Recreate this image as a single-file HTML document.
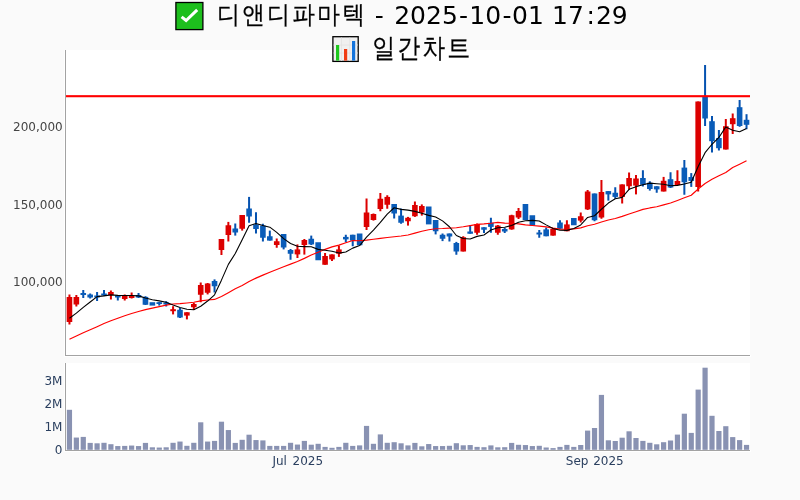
<!DOCTYPE html>
<html lang="ko"><head><meta charset="utf-8"><title>디앤디파마텍 일간차트</title>
<style>html,body{margin:0;padding:0;background:#fafafa;}body{width:800px;height:500px;overflow:hidden;}svg{display:block;will-change:transform;}.t{font-family:"DejaVu Sans","WenQuanYi Zen Hei",sans-serif;font-size:25px;fill:#000;}.k{font-family:"WenQuanYi Zen Hei","DejaVu Sans",sans-serif;font-size:25px;fill:#000;}.y{font-family:"DejaVu Sans","Liberation Sans",sans-serif;font-size:12px;fill:#444;}.v{font-family:"DejaVu Sans","Liberation Sans",sans-serif;font-size:12px;fill:#2a3f5f;}</style></head><body>
<svg width="800" height="500" viewBox="0 0 800 500">
<rect width="800" height="500" fill="#fafafa"/>
<rect x="64" y="50" width="686" height="307" fill="#fff"/><rect x="750" y="355" width="1" height="2" fill="#fff"/>
<rect x="64" y="363" width="686" height="89" fill="#fff"/><rect x="750" y="450" width="1" height="2" fill="#fff"/>
<g fill="#8992b2">
<rect x="66.85" y="409.8" width="5.2" height="40"/>
<rect x="73.76" y="437.55" width="5.2" height="12.25"/>
<rect x="80.67" y="436.9" width="5.2" height="12.9"/>
<rect x="87.58" y="442.9" width="5.2" height="6.9"/>
<rect x="94.49" y="443.3" width="5.2" height="6.5"/>
<rect x="101.4" y="442.8" width="5.2" height="7"/>
<rect x="108.3" y="444.2" width="5.2" height="5.6"/>
<rect x="115.21" y="446.05" width="5.2" height="3.75"/>
<rect x="122.12" y="445.9" width="5.2" height="3.9"/>
<rect x="129.03" y="445.55" width="5.2" height="4.25"/>
<rect x="135.94" y="446.05" width="5.2" height="3.75"/>
<rect x="142.85" y="442.9" width="5.2" height="6.9"/>
<rect x="149.76" y="447.3" width="5.2" height="2.5"/>
<rect x="156.67" y="447.55" width="5.2" height="2.25"/>
<rect x="163.58" y="447.3" width="5.2" height="2.5"/>
<rect x="170.48" y="442.8" width="5.2" height="7"/>
<rect x="177.39" y="441.55" width="5.2" height="8.25"/>
<rect x="184.3" y="445.8" width="5.2" height="4"/>
<rect x="191.21" y="442.8" width="5.2" height="7"/>
<rect x="198.12" y="422.3" width="5.2" height="27.5"/>
<rect x="205.03" y="441.55" width="5.2" height="8.25"/>
<rect x="211.94" y="440.9" width="5.2" height="8.9"/>
<rect x="218.85" y="421.7" width="5.2" height="28.1"/>
<rect x="225.76" y="430.05" width="5.2" height="19.75"/>
<rect x="232.67" y="442.9" width="5.2" height="6.9"/>
<rect x="239.58" y="439.8" width="5.2" height="10"/>
<rect x="246.48" y="434.7" width="5.2" height="15.1"/>
<rect x="253.39" y="440.05" width="5.2" height="9.75"/>
<rect x="260.3" y="440.4" width="5.2" height="9.4"/>
<rect x="267.21" y="445.9" width="5.2" height="3.9"/>
<rect x="274.12" y="445.9" width="5.2" height="3.9"/>
<rect x="281.03" y="445.9" width="5.2" height="3.9"/>
<rect x="287.94" y="442.8" width="5.2" height="7"/>
<rect x="294.85" y="444.55" width="5.2" height="5.25"/>
<rect x="301.76" y="440.9" width="5.2" height="8.9"/>
<rect x="308.66" y="444.7" width="5.2" height="5.1"/>
<rect x="315.57" y="443.8" width="5.2" height="6"/>
<rect x="322.48" y="446.9" width="5.2" height="2.9"/>
<rect x="329.39" y="447.8" width="5.2" height="2"/>
<rect x="336.3" y="446.9" width="5.2" height="2.9"/>
<rect x="343.21" y="442.8" width="5.2" height="7"/>
<rect x="350.12" y="445.9" width="5.2" height="3.9"/>
<rect x="357.03" y="445.4" width="5.2" height="4.4"/>
<rect x="363.94" y="425.9" width="5.2" height="23.9"/>
<rect x="370.85" y="443.8" width="5.2" height="6"/>
<rect x="377.75" y="434.4" width="5.2" height="15.4"/>
<rect x="384.66" y="442.8" width="5.2" height="7"/>
<rect x="391.57" y="442.2" width="5.2" height="7.6"/>
<rect x="398.48" y="443.3" width="5.2" height="6.5"/>
<rect x="405.39" y="445.4" width="5.2" height="4.4"/>
<rect x="412.3" y="442.9" width="5.2" height="6.9"/>
<rect x="419.21" y="446.3" width="5.2" height="3.5"/>
<rect x="426.12" y="444.05" width="5.2" height="5.75"/>
<rect x="433.03" y="446.05" width="5.2" height="3.75"/>
<rect x="439.94" y="446.05" width="5.2" height="3.75"/>
<rect x="446.84" y="445.8" width="5.2" height="4"/>
<rect x="453.75" y="443.2" width="5.2" height="6.6"/>
<rect x="460.66" y="445.3" width="5.2" height="4.5"/>
<rect x="467.57" y="445.05" width="5.2" height="4.75"/>
<rect x="474.48" y="446.9" width="5.2" height="2.9"/>
<rect x="481.39" y="447.2" width="5.2" height="2.6"/>
<rect x="488.3" y="445.4" width="5.2" height="4.4"/>
<rect x="495.21" y="447.3" width="5.2" height="2.5"/>
<rect x="502.12" y="447.2" width="5.2" height="2.6"/>
<rect x="509.03" y="442.9" width="5.2" height="6.9"/>
<rect x="515.93" y="444.8" width="5.2" height="5"/>
<rect x="522.84" y="445.05" width="5.2" height="4.75"/>
<rect x="529.75" y="446.05" width="5.2" height="3.75"/>
<rect x="536.66" y="445.8" width="5.2" height="4"/>
<rect x="543.57" y="447.5" width="5.2" height="2.3"/>
<rect x="550.48" y="448.1" width="5.2" height="1.7"/>
<rect x="557.39" y="446.9" width="5.2" height="2.9"/>
<rect x="564.3" y="444.9" width="5.2" height="4.9"/>
<rect x="571.21" y="446.9" width="5.2" height="2.9"/>
<rect x="578.12" y="445" width="5.2" height="4.8"/>
<rect x="585.02" y="430.6" width="5.2" height="19.2"/>
<rect x="591.93" y="428" width="5.2" height="21.8"/>
<rect x="598.84" y="394.9" width="5.2" height="54.9"/>
<rect x="605.75" y="440.3" width="5.2" height="9.5"/>
<rect x="612.66" y="441" width="5.2" height="8.8"/>
<rect x="619.57" y="437.7" width="5.2" height="12.1"/>
<rect x="626.48" y="431.3" width="5.2" height="18.5"/>
<rect x="633.39" y="438" width="5.2" height="11.8"/>
<rect x="640.3" y="440.9" width="5.2" height="8.9"/>
<rect x="647.21" y="442.8" width="5.2" height="7"/>
<rect x="654.12" y="444.3" width="5.2" height="5.5"/>
<rect x="661.02" y="442.2" width="5.2" height="7.6"/>
<rect x="667.93" y="440.5" width="5.2" height="9.3"/>
<rect x="674.84" y="434.6" width="5.2" height="15.2"/>
<rect x="681.75" y="413.7" width="5.2" height="36.1"/>
<rect x="688.66" y="432.9" width="5.2" height="16.9"/>
<rect x="695.57" y="389.6" width="5.2" height="60.2"/>
<rect x="702.48" y="367.7" width="5.2" height="82.1"/>
<rect x="709.39" y="415.8" width="5.2" height="34"/>
<rect x="716.3" y="431" width="5.2" height="18.8"/>
<rect x="723.21" y="426.2" width="5.2" height="23.6"/>
<rect x="730.11" y="437.1" width="5.2" height="12.7"/>
<rect x="737.02" y="440.1" width="5.2" height="9.7"/>
<rect x="743.93" y="444.9" width="5.2" height="4.9"/>
</g>
<g>
<rect x="68.45" y="294.5" width="2" height="30" fill="#dc0000"/>
<rect x="66.65" y="297" width="5.6" height="25" fill="#dc0000"/>
<rect x="75.36" y="295" width="2" height="11.5" fill="#dc0000"/>
<rect x="73.56" y="297" width="5.6" height="7.5" fill="#dc0000"/>
<rect x="82.27" y="290" width="2" height="8" fill="#0552b0"/>
<rect x="80.47" y="293" width="5.6" height="2" fill="#0a5cb8"/>
<rect x="89.18" y="293.5" width="2" height="5" fill="#0552b0"/>
<rect x="87.38" y="294.5" width="5.6" height="3" fill="#0a5cb8"/>
<rect x="96.09" y="292" width="2" height="9" fill="#0552b0"/>
<rect x="94.29" y="295.5" width="5.6" height="2" fill="#0a5cb8"/>
<rect x="103" y="290" width="2" height="6" fill="#0552b0"/>
<rect x="101.2" y="293.5" width="5.6" height="2" fill="#0a5cb8"/>
<rect x="109.9" y="290.5" width="2" height="9" fill="#dc0000"/>
<rect x="108.1" y="292" width="5.6" height="3" fill="#dc0000"/>
<rect x="116.81" y="295" width="2" height="5.5" fill="#0552b0"/>
<rect x="115.01" y="295.5" width="5.6" height="2" fill="#0a5cb8"/>
<rect x="123.72" y="294.5" width="2" height="6" fill="#dc0000"/>
<rect x="121.92" y="296" width="5.6" height="3" fill="#dc0000"/>
<rect x="130.63" y="292.5" width="2" height="6" fill="#dc0000"/>
<rect x="128.83" y="295.5" width="5.6" height="2.5" fill="#dc0000"/>
<rect x="137.54" y="293" width="2" height="5" fill="#0552b0"/>
<rect x="135.74" y="295" width="5.6" height="2.5" fill="#0a5cb8"/>
<rect x="144.45" y="296.2" width="2" height="8.8" fill="#0552b0"/>
<rect x="142.65" y="296.9" width="5.6" height="7.85" fill="#0a5cb8"/>
<rect x="149.56" y="302.2" width="5.6" height="3.4" fill="#0a5cb8"/>
<rect x="158.27" y="301.9" width="2" height="3.7" fill="#0552b0"/>
<rect x="156.47" y="302.2" width="5.6" height="1.8" fill="#0a5cb8"/>
<rect x="165.18" y="301.2" width="2" height="5.3" fill="#0552b0"/>
<rect x="163.38" y="302.5" width="5.6" height="2" fill="#0a5cb8"/>
<rect x="172.08" y="306.2" width="2" height="8.2" fill="#dc0000"/>
<rect x="170.28" y="309.2" width="5.6" height="2" fill="#dc0000"/>
<rect x="178.99" y="308" width="2" height="10" fill="#0552b0"/>
<rect x="177.19" y="309.75" width="5.6" height="7.75" fill="#0a5cb8"/>
<rect x="185.9" y="312.25" width="2" height="7.15" fill="#dc0000"/>
<rect x="184.1" y="312.25" width="5.6" height="3.35" fill="#dc0000"/>
<rect x="192.81" y="302.75" width="2" height="7.25" fill="#dc0000"/>
<rect x="191.01" y="304" width="5.6" height="3.25" fill="#dc0000"/>
<rect x="199.72" y="282.5" width="2" height="19.75" fill="#dc0000"/>
<rect x="197.92" y="285" width="5.6" height="9.75" fill="#dc0000"/>
<rect x="206.63" y="283" width="2" height="11.4" fill="#dc0000"/>
<rect x="204.83" y="283.5" width="5.6" height="9.25" fill="#dc0000"/>
<rect x="213.54" y="279.4" width="2" height="13.1" fill="#0552b0"/>
<rect x="211.74" y="281" width="5.6" height="5.25" fill="#0a5cb8"/>
<rect x="220.45" y="239" width="2" height="16" fill="#dc0000"/>
<rect x="218.65" y="239" width="5.6" height="11" fill="#dc0000"/>
<rect x="227.36" y="221.9" width="2" height="19.6" fill="#dc0000"/>
<rect x="225.56" y="225.25" width="5.6" height="9.75" fill="#dc0000"/>
<rect x="234.27" y="223.5" width="2" height="12.1" fill="#0552b0"/>
<rect x="232.47" y="228.5" width="5.6" height="4" fill="#0a5cb8"/>
<rect x="241.18" y="215" width="2" height="15.6" fill="#dc0000"/>
<rect x="239.38" y="215" width="5.6" height="13.75" fill="#dc0000"/>
<rect x="248.08" y="196.9" width="2" height="25.85" fill="#0552b0"/>
<rect x="246.28" y="208.5" width="5.6" height="8" fill="#0a5cb8"/>
<rect x="254.99" y="212.25" width="2" height="21.25" fill="#0552b0"/>
<rect x="253.19" y="224.4" width="5.6" height="4.6" fill="#0a5cb8"/>
<rect x="261.9" y="223.75" width="2" height="17.75" fill="#0552b0"/>
<rect x="260.1" y="225.6" width="5.6" height="12.15" fill="#0a5cb8"/>
<rect x="268.81" y="230.6" width="2" height="10" fill="#0552b0"/>
<rect x="267.01" y="236.25" width="5.6" height="4.35" fill="#0a5cb8"/>
<rect x="275.72" y="238.5" width="2" height="9.25" fill="#dc0000"/>
<rect x="273.92" y="241.25" width="5.6" height="3.75" fill="#dc0000"/>
<rect x="282.63" y="234" width="2" height="15.4" fill="#0552b0"/>
<rect x="280.83" y="234" width="5.6" height="13.5" fill="#0a5cb8"/>
<rect x="289.54" y="249" width="2" height="10.75" fill="#0552b0"/>
<rect x="287.74" y="250" width="5.6" height="3.75" fill="#0a5cb8"/>
<rect x="296.45" y="244.4" width="2" height="13.6" fill="#dc0000"/>
<rect x="294.65" y="249.4" width="5.6" height="5" fill="#dc0000"/>
<rect x="303.36" y="239" width="2" height="15.6" fill="#dc0000"/>
<rect x="301.56" y="240" width="5.6" height="5" fill="#dc0000"/>
<rect x="310.26" y="235.6" width="2" height="9.4" fill="#0552b0"/>
<rect x="308.46" y="238.75" width="5.6" height="5.65" fill="#0a5cb8"/>
<rect x="315.37" y="242.25" width="5.6" height="18" fill="#0a5cb8"/>
<rect x="324.08" y="253" width="2" height="11.75" fill="#dc0000"/>
<rect x="322.28" y="256" width="5.6" height="8.75" fill="#dc0000"/>
<rect x="330.99" y="254.4" width="2" height="6.6" fill="#dc0000"/>
<rect x="329.19" y="254.4" width="5.6" height="5" fill="#dc0000"/>
<rect x="337.9" y="245.6" width="2" height="11.3" fill="#dc0000"/>
<rect x="336.1" y="249.4" width="5.6" height="4.35" fill="#dc0000"/>
<rect x="344.81" y="234.75" width="2" height="7.5" fill="#0552b0"/>
<rect x="343.01" y="236.9" width="5.6" height="2.5" fill="#0a5cb8"/>
<rect x="351.72" y="234.75" width="2" height="11.5" fill="#0552b0"/>
<rect x="349.92" y="234.75" width="5.6" height="5.85" fill="#0a5cb8"/>
<rect x="356.83" y="233.5" width="5.6" height="11.75" fill="#0a5cb8"/>
<rect x="365.54" y="198.5" width="2" height="31.5" fill="#dc0000"/>
<rect x="363.74" y="212.5" width="5.6" height="14.5" fill="#dc0000"/>
<rect x="372.45" y="213.5" width="2" height="7.1" fill="#dc0000"/>
<rect x="370.65" y="214" width="5.6" height="6" fill="#dc0000"/>
<rect x="379.35" y="193" width="2" height="18.25" fill="#dc0000"/>
<rect x="377.55" y="198.75" width="5.6" height="10.25" fill="#dc0000"/>
<rect x="386.26" y="195.25" width="2" height="13.5" fill="#dc0000"/>
<rect x="384.46" y="196.9" width="5.6" height="7.85" fill="#dc0000"/>
<rect x="393.17" y="204" width="2" height="14.5" fill="#0552b0"/>
<rect x="391.37" y="204" width="5.6" height="9.5" fill="#0a5cb8"/>
<rect x="400.08" y="208.5" width="2" height="15.25" fill="#0552b0"/>
<rect x="398.28" y="215.6" width="5.6" height="7.15" fill="#0a5cb8"/>
<rect x="406.99" y="216.9" width="2" height="8.7" fill="#dc0000"/>
<rect x="405.19" y="217.75" width="5.6" height="3.5" fill="#dc0000"/>
<rect x="413.9" y="201.5" width="2" height="15.4" fill="#dc0000"/>
<rect x="412.1" y="205" width="5.6" height="11.25" fill="#dc0000"/>
<rect x="420.81" y="204.4" width="2" height="11.2" fill="#dc0000"/>
<rect x="419.01" y="206" width="5.6" height="6.5" fill="#dc0000"/>
<rect x="425.92" y="206.5" width="5.6" height="17.9" fill="#0a5cb8"/>
<rect x="434.63" y="220" width="2" height="14.4" fill="#0552b0"/>
<rect x="432.83" y="220" width="5.6" height="11.25" fill="#0a5cb8"/>
<rect x="441.54" y="233.5" width="2" height="7.6" fill="#0552b0"/>
<rect x="439.74" y="234.75" width="5.6" height="4" fill="#0a5cb8"/>
<rect x="448.44" y="233.5" width="2" height="8" fill="#0552b0"/>
<rect x="446.64" y="233.5" width="5.6" height="3" fill="#0a5cb8"/>
<rect x="455.35" y="241.9" width="2" height="12.85" fill="#0552b0"/>
<rect x="453.55" y="243" width="5.6" height="8.5" fill="#0a5cb8"/>
<rect x="462.26" y="236.25" width="2" height="15.25" fill="#dc0000"/>
<rect x="460.46" y="237.25" width="5.6" height="14.25" fill="#dc0000"/>
<rect x="469.17" y="225" width="2" height="8.75" fill="#0552b0"/>
<rect x="467.37" y="231.5" width="5.6" height="2.25" fill="#0a5cb8"/>
<rect x="476.08" y="223.5" width="2" height="11.25" fill="#dc0000"/>
<rect x="474.28" y="224" width="5.6" height="8.75" fill="#dc0000"/>
<rect x="482.99" y="227.25" width="2" height="5.75" fill="#0552b0"/>
<rect x="481.19" y="227.25" width="5.6" height="2.5" fill="#0a5cb8"/>
<rect x="489.9" y="217.75" width="2" height="15" fill="#0552b0"/>
<rect x="488.1" y="222.75" width="5.6" height="4.15" fill="#0a5cb8"/>
<rect x="496.81" y="225" width="2" height="9.75" fill="#dc0000"/>
<rect x="495.01" y="225.6" width="5.6" height="7.15" fill="#dc0000"/>
<rect x="503.72" y="227.75" width="2" height="5.25" fill="#0552b0"/>
<rect x="501.92" y="229" width="5.6" height="2.5" fill="#0a5cb8"/>
<rect x="510.63" y="214.75" width="2" height="15" fill="#dc0000"/>
<rect x="508.83" y="215.25" width="5.6" height="14.15" fill="#dc0000"/>
<rect x="517.53" y="208" width="2" height="11" fill="#dc0000"/>
<rect x="515.74" y="211" width="5.6" height="6.5" fill="#dc0000"/>
<rect x="522.64" y="204" width="5.6" height="16" fill="#0a5cb8"/>
<rect x="529.55" y="215.25" width="5.6" height="10.35" fill="#0a5cb8"/>
<rect x="538.26" y="230" width="2" height="7.75" fill="#0552b0"/>
<rect x="536.46" y="232.5" width="5.6" height="2" fill="#0a5cb8"/>
<rect x="545.17" y="227.5" width="2" height="8.75" fill="#0552b0"/>
<rect x="543.37" y="229.4" width="5.6" height="6.85" fill="#0a5cb8"/>
<rect x="552.08" y="228.5" width="2" height="7.1" fill="#dc0000"/>
<rect x="550.28" y="229" width="5.6" height="6.6" fill="#dc0000"/>
<rect x="558.99" y="220.25" width="2" height="8.5" fill="#0552b0"/>
<rect x="557.19" y="222.5" width="5.6" height="6.25" fill="#0a5cb8"/>
<rect x="565.9" y="220.25" width="2" height="11" fill="#dc0000"/>
<rect x="564.1" y="224.4" width="5.6" height="6.85" fill="#dc0000"/>
<rect x="571.01" y="218" width="5.6" height="7.25" fill="#0a5cb8"/>
<rect x="579.72" y="212.5" width="2" height="10" fill="#dc0000"/>
<rect x="577.92" y="216.25" width="5.6" height="4.35" fill="#dc0000"/>
<rect x="586.62" y="190" width="2" height="20" fill="#dc0000"/>
<rect x="584.83" y="191.5" width="5.6" height="17.9" fill="#dc0000"/>
<rect x="593.53" y="193.5" width="2" height="27.75" fill="#0552b0"/>
<rect x="591.73" y="193.5" width="5.6" height="26.75" fill="#0a5cb8"/>
<rect x="600.44" y="180" width="2" height="38.75" fill="#dc0000"/>
<rect x="598.64" y="192" width="5.6" height="25.5" fill="#dc0000"/>
<rect x="607.35" y="191.1" width="2" height="9.5" fill="#0552b0"/>
<rect x="605.55" y="191.1" width="5.6" height="3.3" fill="#0a5cb8"/>
<rect x="614.26" y="187.25" width="2" height="11.5" fill="#0552b0"/>
<rect x="612.46" y="192.75" width="5.6" height="4.15" fill="#0a5cb8"/>
<rect x="621.17" y="184.4" width="2" height="19.1" fill="#dc0000"/>
<rect x="619.37" y="184.4" width="5.6" height="12.5" fill="#dc0000"/>
<rect x="628.08" y="172.5" width="2" height="17.25" fill="#dc0000"/>
<rect x="626.28" y="178" width="5.6" height="8.25" fill="#dc0000"/>
<rect x="634.99" y="175" width="2" height="19.4" fill="#dc0000"/>
<rect x="633.19" y="178.5" width="5.6" height="7.1" fill="#dc0000"/>
<rect x="641.9" y="170.25" width="2" height="16.25" fill="#0552b0"/>
<rect x="640.1" y="178" width="5.6" height="6.75" fill="#0a5cb8"/>
<rect x="648.81" y="181.25" width="2" height="9.35" fill="#0552b0"/>
<rect x="647.01" y="182.75" width="5.6" height="6.25" fill="#0a5cb8"/>
<rect x="655.72" y="186.25" width="2" height="6.5" fill="#0552b0"/>
<rect x="653.92" y="186.25" width="5.6" height="3.15" fill="#0a5cb8"/>
<rect x="662.62" y="176.9" width="2" height="14.6" fill="#dc0000"/>
<rect x="660.82" y="180.8" width="5.6" height="10.7" fill="#dc0000"/>
<rect x="669.53" y="172.25" width="2" height="15.75" fill="#0552b0"/>
<rect x="667.73" y="179.2" width="5.6" height="8.3" fill="#0a5cb8"/>
<rect x="676.44" y="170.25" width="2" height="14.75" fill="#dc0000"/>
<rect x="674.64" y="181" width="5.6" height="4" fill="#dc0000"/>
<rect x="683.35" y="160" width="2" height="34.75" fill="#0552b0"/>
<rect x="681.55" y="167.6" width="5.6" height="14.65" fill="#0a5cb8"/>
<rect x="690.26" y="173.1" width="2" height="13.8" fill="#0552b0"/>
<rect x="688.46" y="177" width="5.6" height="3.9" fill="#0a5cb8"/>
<rect x="697.17" y="101.5" width="2" height="90" fill="#dc0000"/>
<rect x="695.37" y="101.5" width="5.6" height="85.5" fill="#dc0000"/>
<rect x="704.08" y="65" width="2" height="61" fill="#0552b0"/>
<rect x="702.28" y="96.5" width="5.6" height="22" fill="#0a5cb8"/>
<rect x="710.99" y="116" width="2" height="36.5" fill="#0552b0"/>
<rect x="709.19" y="121.2" width="5.6" height="20" fill="#0a5cb8"/>
<rect x="717.9" y="130" width="2" height="20.5" fill="#0552b0"/>
<rect x="716.1" y="138" width="5.6" height="10.2" fill="#0a5cb8"/>
<rect x="724.81" y="119" width="2" height="30.5" fill="#dc0000"/>
<rect x="723.01" y="126.2" width="5.6" height="23.3" fill="#dc0000"/>
<rect x="731.71" y="113.5" width="2" height="20.5" fill="#dc0000"/>
<rect x="729.91" y="118.2" width="5.6" height="6" fill="#dc0000"/>
<rect x="738.62" y="100" width="2" height="26.8" fill="#0552b0"/>
<rect x="736.82" y="107.2" width="5.6" height="18.8" fill="#0a5cb8"/>
<rect x="745.53" y="114.2" width="2" height="15" fill="#0552b0"/>
<rect x="743.73" y="119.8" width="5.6" height="5" fill="#0a5cb8"/>
</g>
<path d="M69.45,339.25L76.36,336.04L83.27,332.81L90.18,329.84L97.09,326.69L104,323.5L110.9,320.74L117.81,318.17L124.72,315.77L131.63,313.56L138.54,311.53L145.45,309.68L152.36,308.13L159.27,306.64L166.18,305.18L173.08,303.97L179.99,303.63L186.9,303.01L193.81,302.24L200.72,300.94L207.63,300.02L214.54,299.43L221.45,296.49L228.36,292.63L235.27,288.84L242.18,285.44L249.08,281.57L255.99,278.14L262.9,275.13L269.81,272.27L276.72,269.57L283.63,266.71L290.54,264.12L297.45,261.49L304.36,258.36L311.26,255.02L318.17,252.16L325.08,249.34L331.99,246.87L338.9,245.08L345.81,242.77L352.72,240.48L359.63,240.7L366.54,240.06L373.45,239.23L380.35,238.42L387.26,237.54L394.17,236.77L401.08,236.02L407.99,234.97L414.9,233.16L421.81,231.19L428.72,229.72L435.63,228.71L442.54,228.55L449.44,228.16L456.35,227.72L463.26,226.78L470.17,225.64L477.08,224.37L483.99,223.89L490.9,223.2L497.81,222.32L504.72,223.16L511.63,223.22L518.53,223.83L525.44,224.89L532.35,225.49L539.26,226.08L546.17,226.91L553.08,228.11L559.99,229.14L566.9,229.24L573.81,228.94L580.72,227.92L587.62,225.77L594.53,224.21L601.44,221.94L608.35,219.98L615.26,218.53L622.17,216.37L629.08,214.03L635.99,211.67L642.9,209.35L649.81,207.94L656.72,206.76L663.62,204.89L670.53,202.99L677.44,200.42L684.35,197.72L691.26,195.21L698.17,188.95L705.08,183.55L711.99,179.35L718.9,175.85L725.81,172.58L732.71,167.58L739.62,164.18L746.53,160.7" fill="none" stroke="#ff0000" stroke-width="1.15" stroke-linejoin="round"/>
<path d="M69.45,318.25L76.36,313.18L83.27,307.32L90.18,301.96L97.09,296.6L104,295.9L110.9,294.9L117.81,295.4L124.72,295.5L131.63,295.55L138.54,295.9L145.45,298.05L152.36,299.67L159.27,300.89L166.18,302.24L173.08,305.03L179.99,307.58L186.9,309.31L193.81,309.69L200.72,306.19L207.63,301.05L214.54,294.8L221.45,280.15L228.36,264.4L235.27,253.5L242.18,239.8L249.08,225.85L255.99,223.45L262.9,225.55L269.81,227.17L276.72,232.42L283.63,238.62L290.54,243.57L297.45,246.3L304.36,246.58L311.26,246.81L318.17,249.36L325.08,250.21L331.99,251.21L338.9,253.09L345.81,252.04L352.72,248.11L359.63,245.56L366.54,237.18L373.45,230.1L380.35,222.42L387.26,214.08L394.17,207.73L401.08,209.38L407.99,210.13L414.9,211.38L421.81,213.2L428.72,215.38L435.63,217.08L442.54,220.88L449.44,226.78L456.35,235.48L463.26,238.45L470.17,238.93L477.08,236.38L483.99,234.97L490.9,230.06L497.81,227.72L504.72,227.25L511.63,225.5L518.53,222.2L525.44,220.82L532.35,220.42L539.26,221.07L546.17,224.87L553.08,228.47L559.99,230.22L566.9,230.38L573.81,228.53L580.72,224.93L587.62,217.43L594.53,215.73L601.44,209.25L608.35,203.08L615.26,198.81L622.17,197.39L629.08,189.34L635.99,186.64L642.9,184.71L649.81,183.13L656.72,183.73L663.62,184.29L670.53,185.69L677.44,185.34L684.35,183.99L691.26,182.29L698.17,166.43L705.08,152.63L711.99,144.27L718.9,137.46L725.81,126.92L732.71,130.26L739.62,131.76L746.53,128.48" fill="none" stroke="#000" stroke-width="1.1" stroke-linejoin="round"/>
<rect x="66" y="95.15" width="684" height="2.1" fill="#ff0000"/>
<g fill="#a3a3a3"><rect x="65" y="50" width="1" height="306"/><rect x="65" y="355" width="685" height="1"/><rect x="65" y="363" width="1" height="88"/><rect x="65" y="450" width="685" height="1"/></g>
<text class="y" x="62.7" y="131" text-anchor="end">200,000</text>
<text class="y" x="62.7" y="209" text-anchor="end">150,000</text>
<text class="y" x="62.7" y="286.2" text-anchor="end">100,000</text>
<text class="v" x="62.4" y="385" text-anchor="end">3M</text>
<text class="v" x="62.4" y="408" text-anchor="end">2M</text>
<text class="v" x="62.4" y="431" text-anchor="end">1M</text>
<text class="v" x="62.4" y="454" text-anchor="end">0</text>
<text class="v" y="465.1"><tspan x="272.45">Jul </tspan><tspan x="292.5">2025</tspan></text>
<text class="v" y="465.1"><tspan x="565.8">Sep </tspan><tspan x="593.2">2025</tspan></text>
<g id="ic1"><rect x="175.9" y="2.5" width="27" height="27.1" fill="#1dbf1d" stroke="#000" stroke-width="1.3"/><path d="M181.6,16.8 L186.1,20.5 L197.2,9.8" fill="none" stroke="#fff" stroke-width="3"/></g>
<text class="k" transform="translate(217.2,23.2) scale(0.91,1)" letter-spacing="2.47" stroke="#000" stroke-width="0.25">디앤디파마텍 </text>
<text class="t" y="24.3"><tspan x="374.85">- </tspan><tspan x="394.2">2025</tspan><tspan x="459.1">-</tspan><tspan x="469.3">10</tspan><tspan x="502.5">-</tspan><tspan x="512.1">01 </tspan><tspan x="552">17</tspan><tspan x="586.4">:</tspan><tspan x="595.95">29</tspan></text>
<g id="ic2"><rect x="332.9" y="36.7" width="25.3" height="24.7" fill="#f0f0f0" stroke="#000" stroke-width="1.3"/><path d="M341.5,37.5V61M349.8,37.5V61M333.5,45H358M333.5,53H358" stroke="#e2e2e2" stroke-width="0.8" fill="none"/><rect x="336" y="45" width="3.2" height="15.6" fill="#1ec81e"/><rect x="344" y="49" width="3.2" height="11.6" fill="#f03c14"/><rect x="352" y="41" width="3.2" height="19.6" fill="#1474dc"/></g>
<text class="k" transform="translate(372.2,56.8) scale(0.92,1.07)" letter-spacing="2.17" stroke="#000" stroke-width="0.25">일간차트</text>
</svg></body></html>
